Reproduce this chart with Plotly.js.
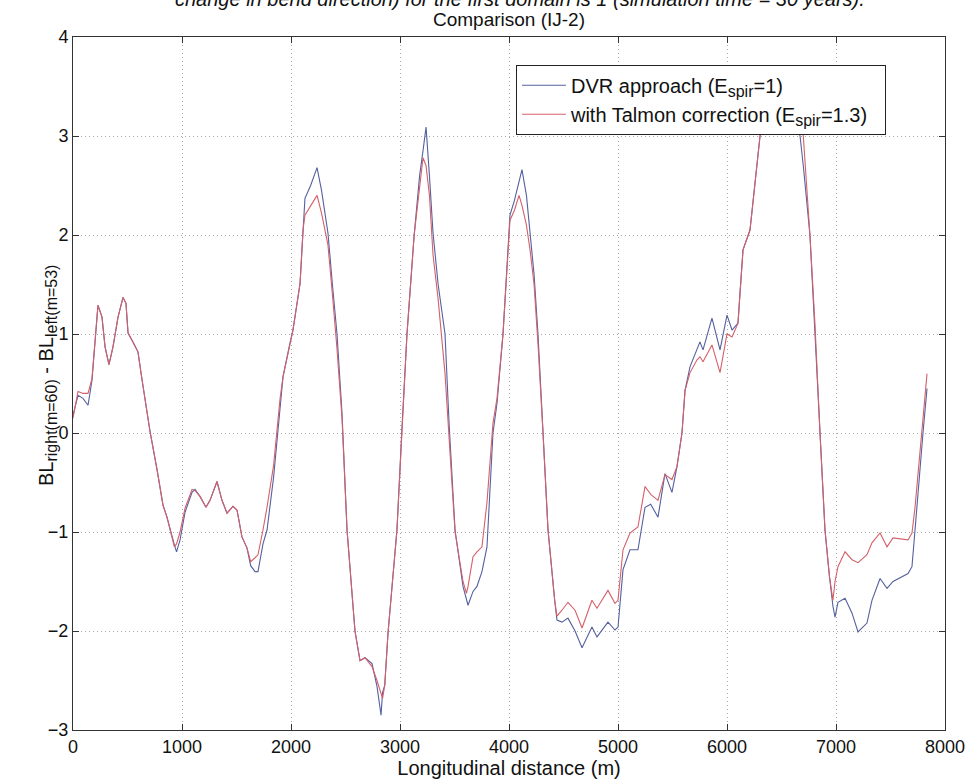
<!DOCTYPE html>
<html>
<head>
<meta charset="utf-8">
<script src="https://cdn.plot.ly/plotly-3.0.1.min.js"></script>
<style>html,body{margin:0;padding:0;background:#fff;}#chart{width:970px;height:783px;}</style>
</head>
<body>
<div id="chart"></div>
<script>
// Longitudinal distance (m)
const distance = [0,46,92,138,174,202,229,266,294,330,367,413,459,486,505,550,596,633,670,706,771,826,862,908,930,950,982,1028,1092,1119,1165,1220,1257,1321,1367,1413,1468,1505,1550,1596,1630,1670,1697,1743,1780,1840,1872,1900,1927,1991,2018,2083,2110,2128,2180,2239,2280,2339,2380,2422,2468,2514,2587,2633,2679,2743,2789,2826,2840,2860,2890,2972,3018,3064,3130,3180,3211,3239,3270,3303,3350,3413,3450,3505,3578,3610,3624,3670,3706,3752,3798,3853,3890,3945,4009,4050,4092,4119,4160,4193,4230,4266,4312,4358,4420,4440,4486,4541,4606,4670,4761,4807,4908,4972,5000,5046,5110,5183,5248,5300,5367,5431,5495,5541,5587,5615,5661,5725,5752,5780,5862,5936,6000,6046,6101,6119,6147,6211,6303,6400,6550,6670,6700,6761,6807,6853,6899,6940,6972,6991,7018,7083,7147,7202,7284,7330,7404,7468,7523,7661,7697,7725,7771,7798,7835];
// DVR approach (E_spir = 1)
const dvr = [0.18,0.38,0.35,0.28,0.53,0.97,1.29,1.17,0.87,0.69,0.87,1.17,1.37,1.31,1.01,0.92,0.82,0.54,0.26,0.02,-0.37,-0.73,-0.85,-1.05,-1.13,-1.2,-1.08,-0.80,-0.60,-0.57,-0.64,-0.75,-0.68,-0.49,-0.68,-0.81,-0.74,-0.78,-1.05,-1.16,-1.34,-1.40,-1.40,-1.12,-0.98,-0.45,-0.05,0.30,0.57,0.91,1.04,1.51,2.1,2.37,2.50,2.68,2.45,2.02,1.5,1.0,0.2,-0.98,-2.0,-2.3,-2.27,-2.33,-2.56,-2.85,-2.62,-2.55,-2.02,-0.98,0.05,1.0,2.0,2.6,2.85,3.09,2.6,2.02,1.5,1.0,0.1,-0.98,-1.55,-1.70,-1.74,-1.6,-1.55,-1.4,-1.15,0.0,0.3,1.0,2.2,2.35,2.55,2.66,2.4,2.02,1.6,1.0,0.0,-0.98,-1.7,-1.89,-1.91,-1.87,-2.0,-2.17,-1.96,-2.06,-1.91,-1.99,-1.96,-1.38,-1.18,-1.18,-0.75,-0.72,-0.85,-0.41,-0.6,-0.34,0.0,0.43,0.67,0.84,0.92,0.84,1.16,0.84,1.19,1.04,1.11,1.41,1.85,2.05,3.0,3.5,3.55,3.0,2.7,2.0,1.04,0.0,-0.98,-1.45,-1.75,-1.86,-1.71,-1.67,-1.82,-2.01,-1.92,-1.69,-1.47,-1.57,-1.50,-1.42,-1.35,-0.98,-0.34,0.0,0.45];
// with Talmon correction (E_spir = 1.3)
const talmon = [0.15,0.42,0.40,0.40,0.55,0.97,1.29,1.17,0.87,0.69,0.87,1.17,1.37,1.31,1.01,0.92,0.82,0.54,0.26,0.02,-0.37,-0.73,-0.85,-1.07,-1.15,-1.12,-1.0,-0.76,-0.57,-0.58,-0.64,-0.75,-0.68,-0.49,-0.68,-0.81,-0.74,-0.78,-1.05,-1.16,-1.30,-1.26,-1.23,-0.98,-0.75,-0.33,0.05,0.35,0.57,0.91,1.04,1.51,2.05,2.2,2.30,2.40,2.22,1.90,1.4,0.85,0.15,-0.98,-2.0,-2.3,-2.27,-2.36,-2.5,-2.65,-2.68,-2.55,-2.02,-0.98,0.05,1.0,2.0,2.5,2.78,2.7,2.4,1.8,1.35,0.6,-0.05,-1.0,-1.5,-1.62,-1.55,-1.25,-1.2,-1.15,-0.7,0.1,0.35,1.0,2.15,2.25,2.40,2.30,2.1,1.85,1.5,0.9,0.0,-0.98,-1.7,-1.85,-1.79,-1.71,-1.79,-1.97,-1.69,-1.77,-1.59,-1.72,-1.69,-1.18,-1.01,-0.95,-0.54,-0.62,-0.68,-0.42,-0.47,-0.34,0.0,0.43,0.61,0.74,0.77,0.72,0.89,0.61,1.0,0.97,1.11,1.41,1.85,2.05,3.0,3.5,3.55,3.15,3.0,2.0,1.1,0.0,-0.98,-1.45,-1.69,-1.5,-1.35,-1.2,-1.28,-1.31,-1.23,-1.11,-1.01,-1.15,-1.06,-1.08,-1.01,-0.75,-0.2,0.1,0.6];

const xTicks = [0,1000,2000,3000,4000,5000,6000,7000,8000];
const yTicks = [-3,-2,-1,0,1,2,3,4];

const FONT = 'Liberation Sans, Arial, Helvetica, sans-serif';
const sub = s => '<sub><span style="font-size:16px">' + s + '</span></sub>';

const traces = [
  {x: distance, y: dvr, type: 'scatter', mode: 'lines', name: 'DVR approach (E' + sub('spir') + '=1)',
   line: {color: '#55609e', width: 1.1}},
  {x: distance, y: talmon, type: 'scatter', mode: 'lines', name: 'with Talmon correction (E' + sub('spir') + '=1.3)\u00A0\u00A0',
   line: {color: '#d4606a', width: 1.1}}
];

const axisCommon = {
  showline: true, linecolor: '#333', linewidth: 1, mirror: 'ticks',
  ticks: 'inside', ticklen: 6, tickcolor: '#333',
  showgrid: true, gridcolor: '#a8a8a8', griddash: '1px,3px', gridwidth: 1,
  zeroline: false, tickfont: {family: FONT, size: 18, color: '#111'}
};

const layout = {
  width: 970, height: 783,
  margin: {l: 73, r: 25, t: 37, b: 53},
  paper_bgcolor: '#fff', plot_bgcolor: '#fff',
  font: {family: FONT, color: '#111'},
  showlegend: true,
  legend: {x: 0.508, y: 0.96, xanchor: 'left', yanchor: 'top',
    bgcolor: '#fff', bordercolor: '#222', borderwidth: 1, itemwidth: 44,
    font: {family: FONT, size: 20, color: '#111'}},
  title: {text: 'Comparison (IJ-2)', font: {family: FONT, size: 19, color: '#111'},
    x: 0.5, xref: 'paper', xanchor: 'center', y: 1 - 19/783, yanchor: 'middle', yref: 'container'},
  xaxis: Object.assign({}, axisCommon, {range: [0, 8000], tickvals: xTicks,
    title: {text: 'Longitudinal distance (m)', font: {family: FONT, size: 20, color: '#111'}, standoff: 2}}),
  yaxis: Object.assign({}, axisCommon, {range: [-3, 4], tickvals: yTicks}),
  annotations: [
    {text: '<i>change in bend direction) for the first domain is 1 (simulation time = 30 years).</i>',
     xref: 'paper', yref: 'paper', x: 0.513, y: 1.0548, xanchor: 'center', yanchor: 'middle',
     showarrow: false, font: {family: FONT, size: 20, color: '#111'}},
    {text: 'BL' + sub('right(m=60)') + ' - BL' + sub('left(m=53)'),
     xref: 'paper', yref: 'paper', x: (47 - 73) / 872, y: (730 - 376) / 693, xanchor: 'center', yanchor: 'middle',
     textangle: -90, showarrow: false, font: {family: FONT, size: 20, color: '#111'}}
  ]
};

Plotly.newPlot('chart', traces, layout, {displayModeBar: false, staticPlot: true});
</script>
</body>
</html>
